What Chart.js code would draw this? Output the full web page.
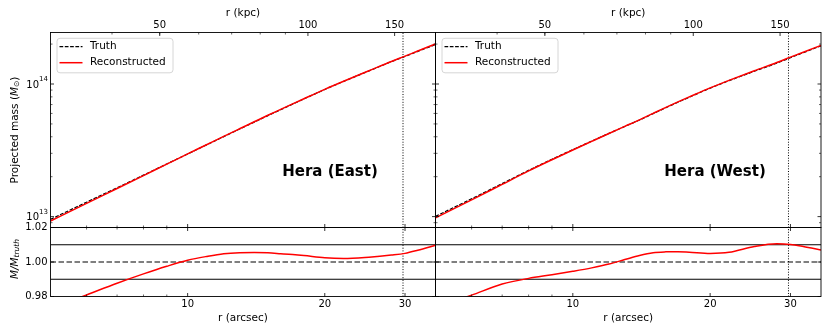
<!DOCTYPE html>
<html>
<head>
<meta charset="utf-8">
<title>Hera mass profiles</title>
<script src="https://cdn.jsdelivr.net/npm/chart.js@4.4.1/dist/chart.umd.min.js"></script>
<style>
    html, body { margin: 0; padding: 0; background: #fff; }
    #wrap { position: relative; width: 830px; height: 332px; }
    #wrap canvas { position: absolute; left: 0; top: 0; }
</style>
</head>
<body>
<div id="wrap">
    <canvas id="east-mass" width="830" height="332"></canvas>
    <canvas id="east-ratio" width="830" height="332"></canvas>
    <canvas id="west-mass" width="830" height="332"></canvas>
    <canvas id="west-ratio" width="830" height="332"></canvas>
</div>
<script>
// ---- data ----
// projected radius, arcsec
const radius = [5, 6, 7, 8, 9, 10, 11, 12, 13, 14, 15, 16, 17, 18, 20, 22, 25, 28, 30, 32, 35];

// Hera (East)
const eastTruth = [9.53e12, 1.285e13, 1.650e13, 2.054e13, 2.496e13, 2.967e13, 3.473e13, 4.011e13, 4.572e13, 5.160e13, 5.777e13,
    6.403e13, 7.053e13, 7.717e13, 9.096e13, 1.0468e14, 1.2543e14, 1.4731e14, 1.6139e14, 1.762e14, 1.9847e14];
const eastRecon = [9.27e12, 1.26e13, 1.63e13, 2.04e13, 2.49e13, 2.97e13, 3.484e13, 4.03e13, 4.597e13, 5.188e13, 5.808e13,
    6.434e13, 7.083e13, 7.746e13, 9.118e13, 1.0489e14, 1.2578e14, 1.479e14, 1.622e14, 1.774e14, 2.004e14];
const eastRatio = [0.973, 0.9809, 0.9877, 0.9931, 0.9975, 1.0010, 1.0032, 1.0048, 1.0054, 1.0055, 1.0053,
    1.0048, 1.0043, 1.0037, 1.0024, 1.0020, 1.0028, 1.0040, 1.0050, 1.0068, 1.0097];

// Hera (West)
const westTruth = [1.0037e13, 1.363e13, 1.773e13, 2.231e13, 2.705e13, 3.197e13, 3.709e13, 4.241e13, 4.786e13, 5.350e13, 5.978e13,
    6.629e13, 7.284e13, 7.945e13, 9.299e13, 1.0595e14, 1.2478e14, 1.4383e14, 1.5789e14, 1.7225e14, 1.9404e14];
const westRecon = [9.77e12, 1.337e13, 1.750e13, 2.21e13, 2.685e13, 3.18e13, 3.696e13, 4.236e13, 4.793e13, 5.370e13, 6.01e13,
    6.668e13, 7.328e13, 7.99e13, 9.346e13, 1.0654e14, 1.259e14, 1.4535e14, 1.595e14, 1.738e14, 1.954e14];
const westRatio = [0.9734, 0.9808, 0.9872, 0.9905, 0.9926, 0.9946, 0.9966, 0.9988, 1.0014, 1.0038, 1.0054,
    1.0059, 1.0060, 1.0057, 1.0050, 1.0056, 1.0090, 1.0106, 1.0102, 1.0090, 1.0070];

const rCut = 29.7;                 // dotted vertical marker, arcsec
const ratioBands = [0.99, 1.01];   // solid reference lines
const ratioOne = 1.0;              // dashed reference line

// axis ranges and ticks
const arcsecRange = [5, 35];
const kpcRange = [30, 181.6];
const massRange = [8.277e12, 2.446e14];
const ratioRange = [0.98, 1.02];
const arcsecTicks = [10, 20, 30];
const kpcTicks = [50, 100, 150];
const massTicks = [1e13, 1e14];
const ratioTicks = [0.98, 1.00, 1.02];
const ratioTickLabels = ['0.98', '1.00', '1.02'];

// ---- layout ----
const W = 830, H = 332;
const columns = { east: [50.5, 435.5], west: [435.5, 821] };
const rows = { mass: [32.5, 227.5], ratio: [227.5, 296.5] };
const FONT = '"DejaVu Sans", Arial, sans-serif';

function pts(ys) {
    return radius.map((r, i) => ({ x: r, y: ys[i] }));
}

// log minor ticks (2..9 x 10^n) inside a range
function logMinor(min, max) {
    const out = [];
    for (let e = Math.floor(Math.log10(min)); e <= Math.ceil(Math.log10(max)); e++) {
        for (let k = 2; k <= 9; k++) {
            const v = k * Math.pow(10, e);
            if (v > min * 1.001 && v < max * 0.999) out.push(v);
        }
    }
    return out;
}

// draw mixed-style text pieces, centred on 0 along the baseline direction
function drawPieces(ctx, pieces) {
    let total = 0;
    pieces.forEach(p => { ctx.font = p.font; p.w = ctx.measureText(p.t).width; total += p.w; });
    let x = -total / 2;
    ctx.textAlign = 'left';
    ctx.textBaseline = 'middle';
    pieces.forEach(p => {
        ctx.font = p.font;
        ctx.fillText(p.t, x, p.dy || 0);
        x += p.w;
    });
}

const framePlugin = {
    id: 'frame',
    afterDatasetsDraw(chart, args, o) {
        const ctx = chart.ctx;
        const a = chart.chartArea;
        const xs = chart.scales.x, ks = chart.scales.kpc, ys = chart.scales.y;
        const MAJ = 3.5, MIN = 2;
        ctx.save();
        ctx.strokeStyle = '#000';
        ctx.fillStyle = '#000';

        const vTick = (px, y0, len) => {
            ctx.beginPath(); ctx.moveTo(px, y0); ctx.lineTo(px, y0 + len); ctx.stroke();
        };
        const hTick = (py, x0, len) => {
            ctx.beginPath(); ctx.moveTo(x0, py); ctx.lineTo(x0 + len, py); ctx.stroke();
        };

        // bottom edge: arcsec
        ctx.lineWidth = 0.8;
        arcsecTicks.forEach(v => vTick(xs.getPixelForValue(v), a.bottom, -MAJ));
        ctx.lineWidth = 0.6;
        logMinor(arcsecRange[0], arcsecRange[1]).filter(v => v < 10).forEach(v => vTick(xs.getPixelForValue(v), a.bottom, -MIN));

        // top edge: kpc on the mass row, arcsec on the ratio row
        const topScale = o.row === 'mass' ? ks : xs;
        const topMaj = o.row === 'mass' ? kpcTicks : arcsecTicks;
        const topMin = o.row === 'mass'
            ? logMinor(kpcRange[0], kpcRange[1]).filter(v => v < 100)
            : logMinor(arcsecRange[0], arcsecRange[1]).filter(v => v < 10);
        ctx.lineWidth = 0.8;
        topMaj.forEach(v => vTick(topScale.getPixelForValue(v), a.top, MAJ));
        ctx.lineWidth = 0.6;
        topMin.forEach(v => vTick(topScale.getPixelForValue(v), a.top, MIN));

        // left/right edges
        const yMaj = o.row === 'mass' ? massTicks : ratioTicks;
        const yMin = o.row === 'mass' ? logMinor(massRange[0], massRange[1]) : [];
        ctx.lineWidth = 0.8;
        yMaj.forEach(v => { const p = ys.getPixelForValue(v); hTick(p, a.left, MAJ); hTick(p, a.right, -MAJ); });
        ctx.lineWidth = 0.6;
        yMin.forEach(v => { const p = ys.getPixelForValue(v); hTick(p, a.left, MIN); hTick(p, a.right, -MIN); });

        // spines
        ctx.lineWidth = 0.9;
        ctx.strokeRect(a.left, a.top, a.right - a.left, a.bottom - a.top);

        // tick labels
        ctx.textBaseline = 'middle';
        ctx.textAlign = 'center';
        ctx.font = '10px ' + FONT;
        if (o.row === 'mass') {
            kpcTicks.forEach(v => ctx.fillText(String(v), ks.getPixelForValue(v), a.top - 7.5));
            ctx.font = '10.5px ' + FONT;
            ctx.fillText('r (kpc)', (a.left + a.right) / 2, a.top - 19.5);
        } else {
            arcsecTicks.forEach(v => ctx.fillText(String(v), xs.getPixelForValue(v), a.bottom + 8));
            ctx.font = '10.5px ' + FONT;
            ctx.fillText('r (arcsec)', (a.left + a.right) / 2, a.bottom + 22);
        }

        if (o.yLabels) {
            const xr = a.left - 2.5;
            ctx.textAlign = 'right';
            if (o.row === 'mass') {
                massTicks.forEach(v => {
                    const p = ys.getPixelForValue(v);
                    const ex = String(Math.round(Math.log10(v)));
                    ctx.font = '7px ' + FONT;
                    const sw = ctx.measureText(ex).width;
                    ctx.fillText(ex, xr, p - 4.5);
                    ctx.font = '10px ' + FONT;
                    ctx.fillText('10', xr - sw, p + 1);
                });
                ctx.save();
                ctx.translate(15, (a.top + a.bottom) / 2);
                ctx.rotate(-Math.PI / 2);
                drawPieces(ctx, [
                    { t: 'Projected mass (', font: '10.5px ' + FONT },
                    { t: 'M', font: 'italic 10.5px ' + FONT },
                    { t: '\u2299', font: '7.5px ' + FONT, dy: 2.5 },
                    { t: ')', font: '10.5px ' + FONT }
                ]);
                ctx.restore();
            } else {
                ctx.font = '10px ' + FONT;
                ratioTicks.forEach((v, i) => ctx.fillText(ratioTickLabels[i], xr - 0.5, ys.getPixelForValue(v)));
                ctx.save();
                ctx.translate(15, (a.top + a.bottom) / 2 - 3);
                ctx.rotate(-Math.PI / 2);
                drawPieces(ctx, [
                    { t: 'M/M', font: 'italic 10.5px ' + FONT },
                    { t: 'truth', font: 'italic 7.5px ' + FONT, dy: 2.5 }
                ]);
                ctx.restore();
            }
        }

        // panel name
        if (o.name) {
            ctx.textAlign = 'center';
            ctx.textBaseline = 'middle';
            ctx.font = 'bold 15px ' + FONT;
            ctx.fillText(o.name, a.left + 279.5, 172);
        }

        // legend
        if (o.legend) {
            const bx = a.left + 6.5, by = a.top + 5.8, bw = 116, bh = 34.5, rad = 3;
            ctx.fillStyle = 'rgba(255,255,255,0.8)';
            ctx.strokeStyle = '#cccccc';
            ctx.lineWidth = 0.8;
            ctx.beginPath();
            ctx.roundRect(bx, by, bw, bh, rad);
            ctx.fill();
            ctx.stroke();
            const entries = [chart.data.datasets[1], chart.data.datasets[0]];
            entries.forEach((ds, i) => {
                const yy = a.top + 14.2 + i * 16;
                ctx.strokeStyle = ds.borderColor;
                ctx.lineWidth = ds.borderWidth;
                ctx.setLineDash(ds.borderDash || []);
                ctx.beginPath();
                ctx.moveTo(a.left + 9, yy);
                ctx.lineTo(a.left + 32, yy);
                ctx.stroke();
                ctx.setLineDash([]);
                ctx.fillStyle = '#000';
                ctx.font = '10.5px ' + FONT;
                ctx.textAlign = 'left';
                ctx.textBaseline = 'middle';
                ctx.fillText(ds.label, a.left + 39.5, yy);
            });
        }
        ctx.restore();
    }
};

function curve(label, data, color, width, dash) {
    return {
        label: label,
        data: data,
        showLine: true,
        borderColor: color,
        backgroundColor: color,
        borderWidth: width,
        borderDash: dash || [],
        pointRadius: 0,
        fill: false,
        cubicInterpolationMode: 'monotone',
        clip: 0
    };
}

function vline(yMin, yMax) {
    return curve('cut', [{ x: rCut, y: yMin }, { x: rCut, y: yMax }], '#000', 1, [1, 1.65]);
}

function hline(y, dash) {
    return curve('ref', [{ x: arcsecRange[0], y: y }, { x: arcsecRange[1], y: y }], '#000', 1.1, dash);
}

function makeChart(id, col, row, datasets, yScale, deco) {
    const [l, r] = columns[col];
    const [t, b] = rows[row];
    deco.row = row;
    return new Chart(document.getElementById(id), {
        type: 'scatter',
        data: { datasets: datasets },
        options: {
            responsive: false,
            animation: false,
            devicePixelRatio: 1,
            events: [],
            layout: { padding: { left: l, right: W - r, top: t, bottom: H - b } },
            plugins: {
                legend: { display: false },
                tooltip: { enabled: false },
                frame: deco
            },
            scales: {
                x: { type: 'logarithmic', min: arcsecRange[0], max: arcsecRange[1], display: false },
                kpc: { type: 'logarithmic', axis: 'x', position: 'top', min: kpcRange[0], max: kpcRange[1], display: false },
                y: yScale
            }
        },
        plugins: [framePlugin]
    });
}

const massScale = { type: 'logarithmic', min: massRange[0], max: massRange[1], display: false };
const ratioScale = { type: 'linear', min: ratioRange[0], max: ratioRange[1], display: false };

window.charts = {};

function massPanel(id, col, truth, recon, name, yLabels) {
    return makeChart(id, col, 'mass', [
        curve('Reconstructed', pts(recon), '#ff0000', 1.5),
        curve('Truth', pts(truth), '#000000', 1.2, [3.7, 1.6]),
        vline(massRange[0], massRange[1])
    ], massScale, { yLabels: yLabels, name: name, legend: true });
}

function ratioPanel(id, col, ratio, yLabels) {
    return makeChart(id, col, 'ratio', [
        curve('Ratio', pts(ratio), '#ff0000', 1.5),
        hline(ratioBands[0]),
        hline(ratioBands[1]),
        hline(ratioOne, [5.5, 2.5]),
        vline(ratioRange[0], ratioRange[1])
    ], ratioScale, { yLabels: yLabels });
}

window.charts.eastMass = massPanel('east-mass', 'east', eastTruth, eastRecon, 'Hera (East)', true);
window.charts.eastRatio = ratioPanel('east-ratio', 'east', eastRatio, true);
window.charts.westMass = massPanel('west-mass', 'west', westTruth, westRecon, 'Hera (West)', false);
window.charts.westRatio = ratioPanel('west-ratio', 'west', westRatio, false);
</script>
</body>
</html>
